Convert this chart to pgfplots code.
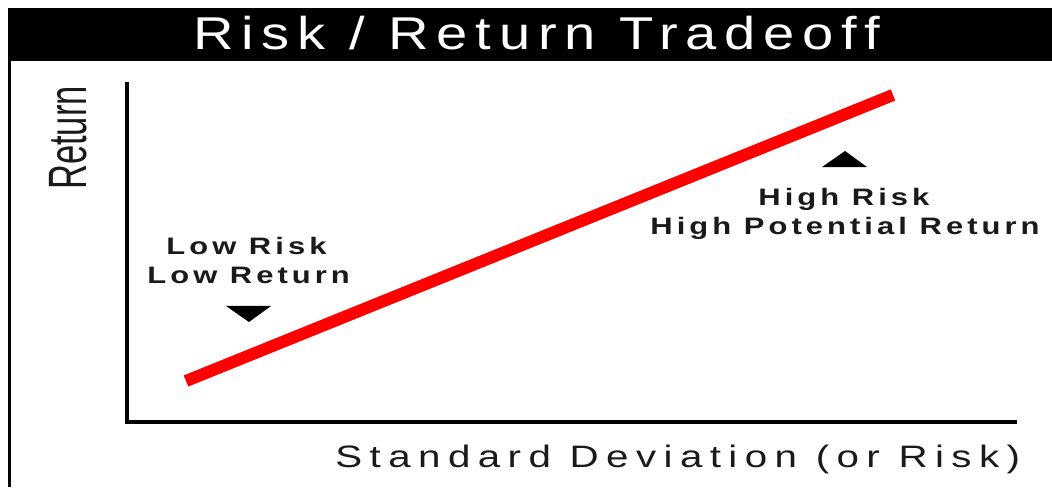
\documentclass[border=0pt]{standalone}
\usepackage{fontspec}
\usepackage{graphicx}
\usepackage{pgfplots}
\pgfplotsset{compat=1.18}
\setmainfont{Liberation Sans}
\newfontfamily\titlefont[FakeStretch=1.22,LetterSpace=17]{Liberation Sans}
\newfontfamily\xlabfont[FakeStretch=1.3,LetterSpace=24]{Liberation Sans}
\newfontfamily\lblfont[FakeStretch=1.3,LetterSpace=17]{Liberation Sans}
\definecolor{lbl}{HTML}{1A1A1A}
\begin{document}
\begin{tikzpicture}
\useasboundingbox (0,0) rectangle (526pt,243.5pt);
\fill[white] (0,0) rectangle (526pt,243.5pt);
% title bar and left frame
\fill[black] (4pt,213pt) rectangle (526pt,239.5pt);
\fill[black] (4pt,0pt) rectangle (5.6pt,213pt);
\node[anchor=base west, inner sep=0pt, text=white] at (96.5pt,218.5pt)
  {\titlefont\fontsize{23}{23}\selectfont Risk / Return Tradeoff};
% y label
\node[rotate=90, inner sep=0pt, text=lbl] at (34pt,174.5pt)
  {\scalebox{0.64}[1]{\fontsize{27}{27}\selectfont Return}};
% x label
\node[anchor=base west, inner sep=0pt, text=lbl] at (167.5pt,10pt)
  {\xlabfont\fontsize{15.5}{15.5}\selectfont Standard Deviation (or Risk)};
\begin{axis}[
  at={(63.5pt,32.5pt)}, anchor=south west,
  scale only axis, width=444pt, height=169pt,
  xmin=0, xmax=10, ymin=0, ymax=10,
  axis x line*=bottom, axis y line*=left,
  axis line style={line width=1.65pt, -, line cap=rect},
  xtick=\empty, ytick=\empty,
  clip=false,
]
\addplot[red, line width=6pt, line cap=butt] coordinates {(0.664,1.213) (8.626,9.675)};
\addplot[fill=black, draw=none] coordinates {(1.115,3.432) (1.622,3.432) (1.374,2.959)} -- cycle;
\addplot[fill=black, draw=none] coordinates {(7.827,7.544) (8.333,7.544) (8.086,8.018)} -- cycle;
\node[anchor=base west, inner sep=0pt, text=lbl] at (axis cs:0.439,4.941)
  {\lblfont\bfseries\fontsize{11.9}{11.9}\selectfont Low Risk};
\node[anchor=base west, inner sep=0pt, text=lbl] at (axis cs:0.225,4.112)
  {\lblfont\bfseries\fontsize{11.9}{11.9}\selectfont Low Return};
\node[anchor=base west, inner sep=0pt, text=lbl] at (axis cs:7.106,6.420)
  {\lblfont\bfseries\fontsize{11.9}{11.9}\selectfont High Risk};
\node[anchor=base west, inner sep=0pt, text=lbl] at (axis cs:5.890,5.562)
  {\lblfont\bfseries\fontsize{11.9}{11.9}\selectfont High Potential Return};
\end{axis}
\end{tikzpicture}
\end{document}
